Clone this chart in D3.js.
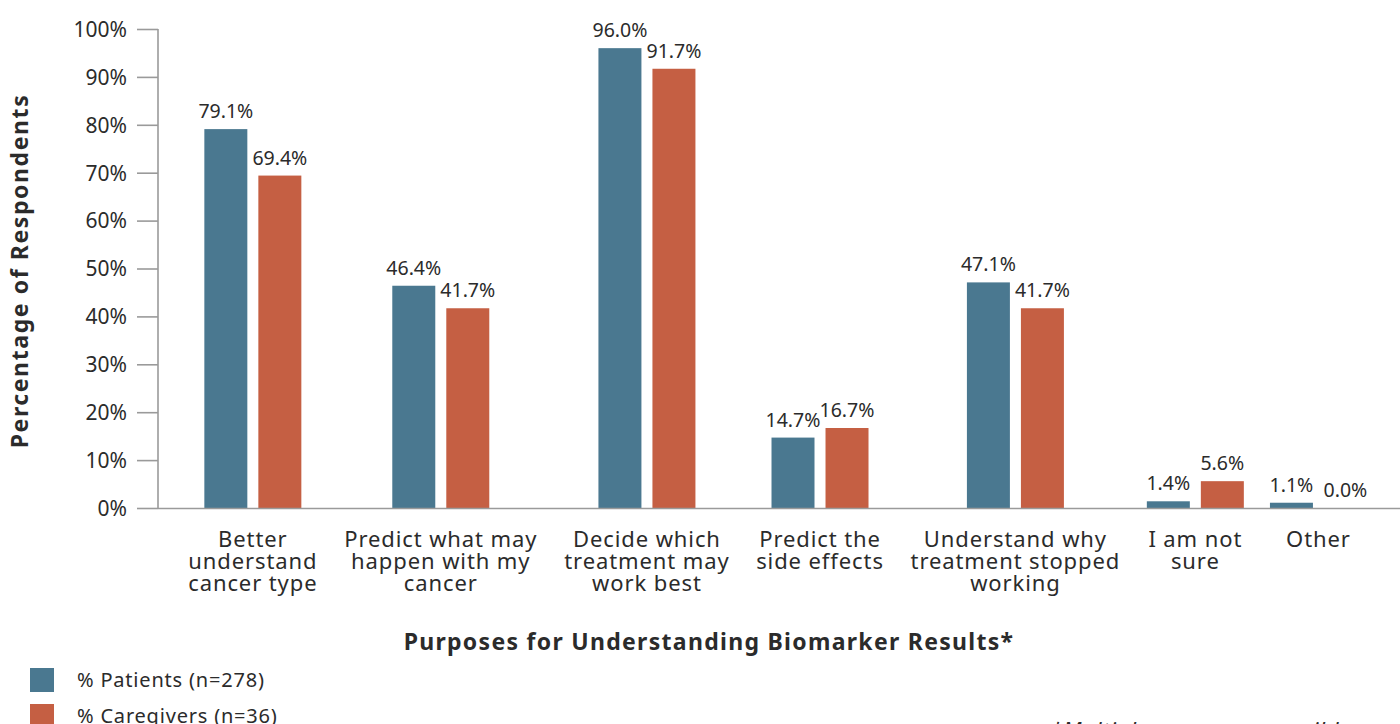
<!DOCTYPE html>
<html><head><meta charset="utf-8">
<script src="https://cdn.jsdelivr.net/npm/d3@7"></script>
<style>
html,body{margin:0;padding:0;background:#fff;overflow:hidden;}
text{font-family:"Noto Sans",sans-serif;fill:#2b2b2b;}
</style></head>
<body>
<svg id="chart" width="1400" height="724"></svg>
<script>
const categories = [
  ["Better","understand","cancer type"],
  ["Predict what may","happen with my","cancer"],
  ["Decide which","treatment may","work best"],
  ["Predict the","side effects"],
  ["Understand why","treatment stopped","working"],
  ["I am not","sure"],
  ["Other"]
];
const seriesNames = ["% Patients (n=278)", "% Caregivers (n=36)"];
const patients   = [79.1, 46.4, 96.0, 14.7, 47.1, 1.4, 1.1];
const caregivers = [69.4, 41.7, 91.7, 16.7, 41.7, 5.6, 0.0];
const yTicks = [0,10,20,30,40,50,60,70,80,90,100];
const colors = ["#4a7890", "#c55f43"];

const svg = d3.select("#chart");
const yAxisX = 158, xEnd = 1400;
const groupW = 97, slotGap = 25;
const labelStyle = s => s.style("font-size","22px").style("letter-spacing","0.9px");

// measure category label widths -> slot widths (layout follows label widths as in the reference)
const meas = svg.append("text").call(labelStyle);
const slotW = categories.map(lines => {
  const w = d3.max(lines, t => { meas.text(t); return meas.node().getComputedTextLength(); });
  return Math.max(w, groupW) + slotGap;
});
meas.remove();
const cum = d3.cumsum([0, ...slotW]);
const xs = d3.scaleLinear().domain([0, cum[cum.length-1]]).range([175, 1380]);
const centerX = i => xs(cum[i] + slotW[i]/2);

const y = d3.scaleLinear().domain([0,100]).range([508,29]);
const idx = categories.map((d,i)=>i);
const x1 = d3.scaleBand().domain([0,1]).range([0,groupW]).paddingInner(0.204).paddingOuter(0);

const data = idx.map(i=>({i, vals:[patients[i], caregivers[i]]}));

// y axis
const yAxis = d3.axisLeft(y).tickValues(yTicks).tickFormat(d=>d+"%").tickSize(21).tickPadding(10);
const gy = svg.append("g").attr("transform",`translate(${yAxisX},0)`).call(yAxis);
gy.select(".domain").remove();
gy.selectAll(".tick line").attr("stroke","#9a9a9a").attr("stroke-width",1.6);
gy.selectAll(".tick text").style("font-size","21px").style("fill","#2b2b2b").attr("dy","0.35em");
svg.append("line").attr("x1",yAxisX).attr("x2",yAxisX).attr("y1",y(100)).attr("y2",y(0)+1)
  .attr("stroke","#9a9a9a").attr("stroke-width",1.6);

// bars
const groups = svg.append("g").selectAll("g").data(data).join("g")
  .attr("transform",d=>`translate(${centerX(d.i)-groupW/2},0)`);
groups.selectAll("rect").data(d=>d.vals.map((v,k)=>({v,k}))).join("rect")
  .attr("x",d=>x1(d.k)).attr("width",x1.bandwidth())
  .attr("y",d=>y(d.v)).attr("height",d=>y(0)-y(d.v))
  .attr("fill",d=>colors[d.k]);
groups.selectAll("text.val").data(d=>d.vals.map((v,k)=>({v,k}))).join("text")
  .attr("class","val")
  .attr("x",d=>x1(d.k)+x1.bandwidth()/2)
  .attr("y",d=>y(d.v)-11)
  .attr("text-anchor","middle").style("font-size","19.5px")
  .text(d=>d.v.toFixed(1)+"%");

// x axis line
svg.append("line").attr("x1",yAxisX).attr("x2",xEnd).attr("y1",y(0)+0.5).attr("y2",y(0)+0.5)
  .attr("stroke","#9a9a9a").attr("stroke-width",1.6);

// x labels
const xl = svg.append("g").selectAll("text").data(data).join("text")
  .attr("text-anchor","middle").call(labelStyle)
  .attr("x",d=>centerX(d.i)).attr("y",547);
xl.selectAll("tspan").data(d=>categories[d.i].map(t=>({t,x:centerX(d.i)}))).join("tspan")
  .attr("x",d=>d.x).attr("dy",(d,k)=>k===0?0:22).text(d=>d.t);

// axis titles
svg.append("text").attr("x",709).attr("y",650).attr("text-anchor","middle")
  .style("font-size","23px").style("font-weight","700").style("letter-spacing","1.3px")
  .text("Purposes for Understanding Biomarker Results*");
svg.append("text").attr("transform","translate(28,271) rotate(-90)").attr("text-anchor","middle")
  .style("font-size","23px").style("font-weight","700").style("letter-spacing","1.6px")
  .text("Percentage of Respondents");

// legend
const lg = svg.append("g").selectAll("g").data(seriesNames).join("g")
  .attr("transform",(d,k)=>`translate(30,${668+k*36})`);
lg.append("rect").attr("width",24).attr("height",24).attr("fill",(d,k)=>colors[k]);
lg.append("text").attr("x",47).attr("y",12).attr("dy","0.35em").style("font-size","20px")
  .style("letter-spacing","0.8px").text(d=>d);

// footnote
svg.append("text").attr("x",1050).attr("y",738).style("font-size","22px").style("font-style","italic")
  .style("letter-spacing","0.8px").text("*Multiple responses possible");
</script>
</body></html>
